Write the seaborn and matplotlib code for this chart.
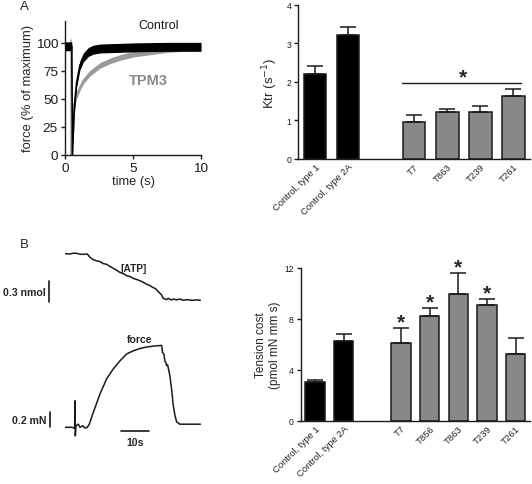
import numpy as np
import pandas as pd
import matplotlib
matplotlib.use("Agg")
import matplotlib.pyplot as plt
import seaborn as sns

sns.set_theme(style="ticks")
plt.rcParams['font.family'] = ['Liberation Sans', 'DejaVu Sans']

# ---------------- Panel A left: force redevelopment ----------------
t_ctrl = [0, 0.2, 0.4, 0.5, 0.55, 0.66, 0.76, 0.86, 1.1, 1.35, 1.72, 2.09, 2.58, 3.2, 3.81, 5.04, 6.3, 7.49, 8.7, 10]
f_ctrl = [97, 97, 97, 97, 0, 35, 53, 65, 80, 87, 92, 94, 95, 95.3, 95.5, 96, 96.3, 96.5, 96.5, 96.5]
sem_ctrl = [4, 4, 4, 4, 0, 3, 3.5, 4, 4, 4, 4, 4, 4, 4, 4, 4, 4, 4, 4, 4]

t_tpm3 = [0.42, 0.45, 0.57, 0.66, 0.86, 1.1, 1.35, 1.84, 2.58, 3.32, 4.05, 5.04, 6.27, 7.49, 8.72, 10]
f_tpm3 = [0, 0, 26, 44, 53, 60, 66, 73, 80, 84, 87, 90, 92, 94, 95, 96]
sem_tpm3 = [0, 0, 2, 2.5, 2.5, 2.5, 2.5, 2.5, 2.5, 2.5, 2.5, 2.5, 2.5, 2.5, 2.5, 2.5]

# ---------------- Panel A right: Ktr ----------------
ktr_cats = ["Control, type 1", "Control, type 2A", "T7", "T863", "T239", "T261"]
ktr_vals = [2.2, 3.21, 0.97, 1.21, 1.22, 1.63]
ktr_err = [0.21, 0.22, 0.17, 0.08, 0.15, 0.19]
ktr_group = ["control", "control", "patient", "patient", "patient", "patient"]

# ---------------- Panel B right: Tension cost ----------------
tc_cats = ["Control, type 1", "Control, type 2A", "T7", "T856", "T863", "T239", "T261"]
tc_vals = [3.01, 6.22, 6.12, 8.19, 9.96, 9.07, 5.23]
tc_err = [0.21, 0.58, 1.15, 0.67, 1.64, 0.47, 1.26]
tc_group = ["control", "control", "patient", "patient", "patient", "patient", "patient"]
tc_star = [False, False, True, True, True, True, False]

# ---------------- Panel B left: raw traces ----------------
atp_t = [0, 1.77, 3.0, 4.12, 5.3, 6.48, 7.89, 8.36, 8.83, 10.0, 11.2, 12.4, 13.5, 14.7, 15.9,
         17.1, 18.2, 19.4, 20.6, 21.8, 23.0, 24.1, 25.3, 26.5, 27.7, 28.9, 30.0, 31.2, 32.1,
         33.0, 34.2, 34.7, 35.3, 35.9, 36.5, 37.1, 37.7, 38.3, 39.5, 40.6, 41.8, 43.0, 44.2,
         45.3, 46.5, 47.9]
atp_v = [0.648, 0.643, 0.655, 0.652, 0.640, 0.638, 0.643, 0.620, 0.597, 0.564, 0.548, 0.537, 0.51,
         0.50, 0.47, 0.444, 0.42, 0.388, 0.37, 0.342, 0.33, 0.305, 0.29, 0.272, 0.25, 0.222,
         0.205, 0.176, 0.16, 0.12, 0.074, 0.027, 0.02, 0.009, 0.027, 0.015, 0.004, 0.018, 0.005,
         0.018, 0.0, 0.009, 0.003, 0.0, 0.006, 0.0]

force_t = [0, 2.36, 3.18, 3.42, 3.53, 3.65, 3.89, 4.71, 5.30, 6.24, 7.07, 7.89, 8.60, 10.0, 12.4,
           14.7, 17.1, 19.4, 21.8, 24.1, 26.5, 28.9, 31.2, 34.2, 34.5, 35.0, 35.3, 35.7, 35.9,
           36.3, 36.6, 37.1, 37.7, 38.3, 38.9, 39.5, 40.6, 43.0, 47.9]
force_v = [0.0, 0.0, -0.01, 0.0, 0.34, -0.11, 0.02, 0.04, 0.0, 0.02, -0.01, 0.0, 0.04, 0.19, 0.43,
           0.62, 0.75, 0.85, 0.94, 0.98, 1.01, 1.03, 1.04, 1.05, 0.96, 0.94, 0.85, 0.83, 0.79,
           0.80, 0.75, 0.66, 0.49, 0.28, 0.15, 0.07, 0.04, 0.04, 0.04]

W, H = 532, 485
fig = plt.figure(figsize=(W / 100, H / 100), dpi=100)


def ax_px(left, top, right, bottom):
    return fig.add_axes([left / W, 1 - bottom / H, (right - left) / W, (bottom - top) / H])


BLACK = "#000000"
GRAY = "#888888"
tick_kw = dict(direction="out", length=3, width=1, colors="k", pad=2)

# ---- A left ----
ax1 = ax_px(65, 21.5, 201, 156)
ax1.fill_between(t_ctrl, np.array(f_ctrl) - np.array(sem_ctrl), np.array(f_ctrl) + np.array(sem_ctrl),
                 color=BLACK, lw=0, zorder=3)
sns.lineplot(x=t_tpm3, y=f_tpm3, ax=ax1, color="#9a9a9a", lw=1.5, zorder=2)
ax1.fill_between(t_tpm3, np.array(f_tpm3) - np.array(sem_tpm3), np.array(f_tpm3) + np.array(sem_tpm3),
                 color="#9a9a9a", lw=0, zorder=2)
ax1.plot([0.42, 0.42], [0, 103], color="#b0b0b0", lw=1.2, zorder=1)
sns.lineplot(x=t_ctrl, y=f_ctrl, ax=ax1, color=BLACK, lw=1.2, zorder=4)
ax1.set_xlim(0, 10)
ax1.set_ylim(0, 120)
ax1.set_xticks([0, 5, 10])
ax1.set_yticks([0, 25, 50, 75, 100])
ax1.tick_params(labelsize=9.7, **tick_kw)
ax1.set_xlabel("time (s)", fontsize=9.3, labelpad=1)
ax1.set_ylabel("force (% of maximum)", fontsize=9.4, labelpad=1)
sns.despine(ax=ax1)
for s in ax1.spines.values():
    s.set_linewidth(1)
    s.set_color("k")
ax1.text(6.9, 116, "Control", ha="center", va="center", fontsize=9, color="k")
ax1.text(6.1, 67, "TPM3", ha="center", va="center", fontsize=10.5, color="#8a8a8a", fontweight="bold")


def bar_panel(ax, cats, vals, errs, groups, ymax, yticks, gap_after=2):
    order = cats[:gap_after] + [" "] + cats[gap_after:]
    df = pd.DataFrame({"cat": cats, "val": vals, "grp": groups})
    pal = {"control": BLACK, "patient": GRAY}
    sns.barplot(data=df, x="cat", y="val", hue="grp", order=order, palette=pal, ax=ax,
                width=0.68, dodge=False, errorbar=None, edgecolor="k", linewidth=1.1,
                legend=False, saturation=1)
    pos = [order.index(c) for c in cats]
    ax.errorbar(pos, vals, yerr=[np.zeros(len(vals)), errs], fmt="none", ecolor="k",
                elinewidth=1.1, capsize=5.5, capthick=1.1, zorder=5)
    ax.set_xlim(-0.5, len(order) - 0.5)
    ax.set_ylim(0, ymax)
    ax.set_yticks(yticks)
    ax.set_xlabel("")
    ax.tick_params(axis="y", labelsize=6.2, **tick_kw)
    ax.tick_params(axis="x", length=0, labelsize=6.8, pad=2)
    ax.set_xticks(range(len(order)))
    ax.set_xticklabels(order, rotation=45, ha="right", rotation_mode="anchor")
    sns.despine(ax=ax)
    for s in ax.spines.values():
        s.set_linewidth(1)
        s.set_color("k")
    return pos


# ---- A right ----
ax2 = ax_px(298.3, 5.7, 530, 160)
pos2 = bar_panel(ax2, ktr_cats, ktr_vals, ktr_err, ktr_group, 4, [0, 1, 2, 3, 4])
ax2.set_ylabel("Ktr (s$^{-1}$)", fontsize=9.5, labelpad=5)
ax2.plot([pos2[2] - 0.37, pos2[-1] + 0.23], [1.98, 1.98], color="k", lw=1)
ax2.text((pos2[2] + pos2[-1]) / 2 - 0.03, 2.13, "*", ha="center", va="center", fontsize=15, fontweight="bold")

# ---- B right ----
ax3 = ax_px(300.7, 268.7, 530, 421.7)
pos3 = bar_panel(ax3, tc_cats, tc_vals, tc_err, tc_group, 12, [0, 4, 8, 12])
ax3.set_ylabel("Tension cost\n(pmol mN mm s)", fontsize=8.5, labelpad=2, linespacing=1.25)
for p, v, e, s in zip(pos3, tc_vals, tc_err, tc_star):
    if s:
        ax3.text(p, v + e + 0.45, "*", ha="center", va="center", fontsize=15, fontweight="bold",
                 clip_on=False)

# ---- B left: traces ----
ax4 = ax_px(65, 250, 200.7, 310)
sns.lineplot(x=atp_t, y=atp_v, ax=ax4, color="k", lw=1.1)
ax4.set_xlim(0, 48)
ax4.set_ylim(-0.121, 0.7125)
ax4.axis("off")
ax4.plot([-5.55, -5.55], [-0.028, 0.272], color="k", lw=1.2, clip_on=False)
ax4.text(-6.9, 0.115, "0.3 nmol", ha="right", va="center", fontsize=7.6, fontweight="bold")
ax4.text(24.1, 0.449, "[ATP]", ha="center", va="center", fontsize=7.3, fontweight="bold")

ax5 = ax_px(65, 340, 200.7, 445)
sns.lineplot(x=force_t, y=force_v, ax=ax5, color="k", lw=1.1)
ax5.set_xlim(0, 48)
ax5.set_ylim(-0.214, 1.132)
ax5.axis("off")
ax5.plot([-5.3, -5.3], [0.0, 0.2], color="k", lw=1.2, clip_on=False)
ax5.text(-6.7, 0.1, "0.2 mN", ha="right", va="center", fontsize=7.6, fontweight="bold")
ax5.plot([19.7, 29.7], [-0.044, -0.044], color="k", lw=1.2, clip_on=False)
ax5.text(24.7, -0.19, "10s", ha="center", va="center", fontsize=7.6, fontweight="bold", clip_on=False)
ax5.text(26.5, 1.13, "force", ha="center", va="center", fontsize=7.6, fontweight="bold", clip_on=False)

fig.text(24 / W, 1 - 7 / H, "A", ha="center", va="center", fontsize=9.5)
fig.text(24 / W, 1 - 245 / H, "B", ha="center", va="center", fontsize=9.5)

fig.savefig("out.png", dpi=100)
